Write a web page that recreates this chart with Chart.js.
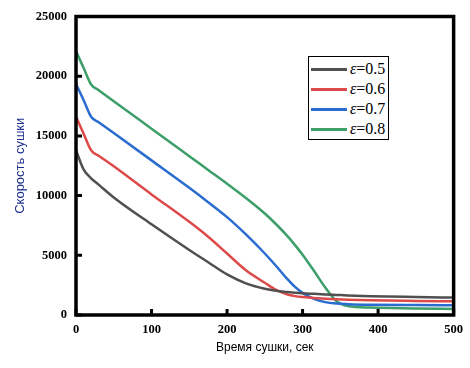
<!DOCTYPE html>
<html><head><meta charset="utf-8">
<script src="https://cdn.jsdelivr.net/npm/chart.js@4.4.1/dist/chart.umd.min.js"></script>
<style>
html,body{margin:0;padding:0;background:#fff;}
#wrap{position:relative;width:470px;height:368px;}
#legend{position:absolute;left:308px;top:56px;width:81px;height:84px;box-sizing:border-box;border:1px solid #000;background:#fff;}
.sw{position:absolute;width:36px;height:3px;}
.lb{position:absolute;white-space:nowrap;font-family:"Liberation Serif","Times New Roman",serif;font-size:16px;line-height:20px;height:20px;color:#000;}
</style></head>
<body><div id="wrap"><canvas id="c" width="470" height="368"></canvas></div>
<script>
// time, s
const times = [0, 10, 20, 30, 50, 100, 150, 175, 200, 225, 250, 265, 280, 290, 300, 315, 330, 345, 360, 390, 450, 500];
const eps05 = [13800, 12200, 11450, 10920, 9850, 7600, 5450, 4420, 3400, 2650, 2200, 2030, 1930, 1870, 1820, 1770, 1720, 1680, 1640, 1580, 1510, 1460];
const eps06 = [16600, 15200, 13800, 13340, 12450, 10100, 7800, 6550, 5150, 3750, 2700, 2100, 1720, 1580, 1500, 1430, 1370, 1320, 1280, 1230, 1180, 1150];
const eps07 = [19350, 18000, 16600, 16150, 15240, 12950, 10650, 9450, 8200, 6750, 5150, 4100, 3000, 2350, 1850, 1350, 1080, 960, 910, 860, 830, 820];
const eps08 = [22100, 20700, 19300, 18830, 17900, 15600, 13300, 12150, 11000, 9800, 8500, 7600, 6600, 5850, 5050, 3700, 2300, 1150, 750, 620, 550, 500];
const seriesNames = ["0.5", "0.6", "0.7", "0.8"];
const seriesValues = [eps05, eps06, eps07, eps08];
const seriesColors = ["#505050", "#dc4a4a", "#2a6ccf", "#3c9e68"];
const xTicks = [0, 100, 200, 300, 400, 500];
const yTicks = [0, 5000, 10000, 15000, 20000, 25000];

const frame = {
  id: 'frame',
  afterDatasetsDraw(chart) {
    const {ctx, chartArea: a, scales: {x, y}} = chart;
    ctx.save();
    ctx.strokeStyle = '#000';
    ctx.lineWidth = 3.5;
    ctx.strokeRect(a.left, a.top, a.right - a.left, a.bottom - a.top);
    ctx.lineWidth = 3;
    ctx.beginPath();
    xTicks.forEach(v => { const p = x.getPixelForValue(v); ctx.moveTo(p, a.bottom); ctx.lineTo(p, a.bottom - 6); });
    yTicks.forEach(v => { const p = y.getPixelForValue(v); ctx.moveTo(a.left, p); ctx.lineTo(a.left + 6, p); });
    ctx.stroke();
    ctx.restore();
  }
};

const tickFont = {family: '"Liberation Serif","Times New Roman",serif', size: 12.5, weight: 'bold'};

new Chart(document.getElementById('c'), {
  type: 'line',
  data: {
    datasets: seriesValues.map((vals, i) => ({
      label: 'ε=' + seriesNames[i],
      data: times.map((t, j) => ({x: t, y: vals[j]})),
      borderColor: seriesColors[i],
      backgroundColor: seriesColors[i],
      borderWidth: 2.5,
      pointRadius: 0,
      cubicInterpolationMode: 'monotone',
      borderJoinStyle: 'round',
      fill: false
    }))
  },
  options: {
    responsive: false,
    animation: false,
    layout: {padding: {top: 9, right: 16, left: 0, bottom: 0}},
    plugins: {legend: {display: false}, tooltip: {enabled: false}},
    scales: {
      x: {
        type: 'linear', min: 0, max: 500,
        afterFit: s => { s.height = 53; },
        afterBuildTicks: s => { s.ticks = xTicks.map(v => ({value: v})); },
        grid: {display: false, drawTicks: false},
        border: {display: false},
        ticks: {color: '#000', font: tickFont, padding: 7, maxRotation: 0, callback: v => String(v)},
        title: {display: true, text: 'Время сушки, сек', color: '#000',
          font: {family: '"Liberation Sans",Arial,sans-serif', size: 12}, padding: {top: 0, bottom: 13}}
      },
      y: {
        type: 'linear', min: 0, max: 25000,
        afterFit: s => { s.width = 76; },
        afterBuildTicks: s => { s.ticks = yTicks.map(v => ({value: v})); },
        grid: {display: false, drawTicks: false},
        border: {display: false},
        ticks: {color: '#000', font: tickFont, padding: 9, callback: v => String(v)},
        title: {display: true, text: 'Скорость сушки', color: '#1c2f8c',
          font: {family: '"Liberation Sans",Arial,sans-serif', size: 13}, padding: {top: 13, bottom: 0}}
      }
    }
  },
  plugins: [frame]
});

// legend
const wrap = document.getElementById('wrap');
const box = document.createElement('div');
box.id = 'legend';
wrap.appendChild(box);
seriesNames.forEach((n, i) => {
  const cy = 69 + 20 * i;
  const sw = document.createElement('div');
  sw.className = 'sw';
  sw.style.left = '311px';
  sw.style.top = (cy - 1.5) + 'px';
  sw.style.background = seriesColors[i];
  wrap.appendChild(sw);
  const lb = document.createElement('div');
  lb.className = 'lb';
  lb.style.left = '350px';
  lb.style.top = (cy - 10) + 'px';
  lb.innerHTML = '<i>ε</i>=' + n;
  wrap.appendChild(lb);
});
</script>
</body></html>
